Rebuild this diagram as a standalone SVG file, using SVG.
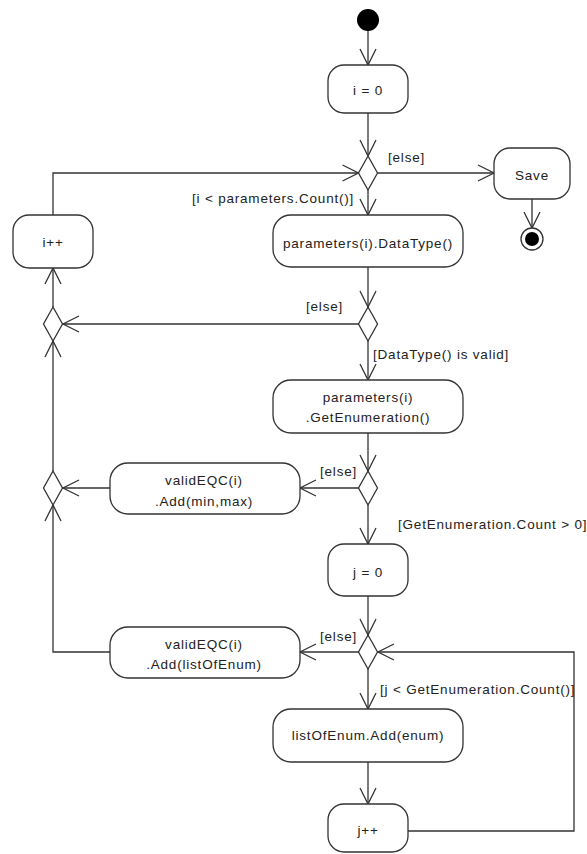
<svg xmlns="http://www.w3.org/2000/svg" width="587" height="854" viewBox="0 0 587 854">
  <style>
    .act { fill: #ffffff; stroke: #333333; stroke-width: 1.3; }
    .dec { fill: #ffffff; stroke: #333333; stroke-width: 1.3; }
    .t { font-family: "Liberation Sans", Arial, sans-serif; font-size: 13.5px; letter-spacing: 0.8px; fill: #222222; }
    .c { text-anchor: middle; }
    .flow { fill: none; stroke: #333333; stroke-width: 1.3; marker-end: url(#arr); }
  </style>
  <defs>
    <marker id="arr" viewBox="-18 -10 20 20" refX="0" refY="0" markerWidth="20" markerHeight="20" markerUnits="userSpaceOnUse" orient="auto">
      <path d="M-16,-8 L0,0 L-16,8" fill="none" stroke="#333333" stroke-width="1.3"/>
    </marker>
  </defs>
  <rect width="587" height="854" fill="#ffffff"/>

  <!-- connectors -->
  <g id="connectors">
    <path class="flow" d="M368,31 L368,65"/>
    <path class="flow" d="M368,113 L368,156"/>
    <path class="flow" d="M378,173 L494,173"/>
    <path class="flow" d="M532,199 L532,228"/>
    <path class="flow" d="M368,190 L368,215"/>
    <path class="flow" d="M368,267 L368,307"/>
    <path class="flow" d="M359,324 L63,324"/>
    <path class="flow" d="M53,307 L53,268"/>
    <path class="flow" d="M53,215 L53,173 L358.5,173"/>
    <path class="flow" d="M368,341 L368,380"/>
    <path class="flow" d="M368,433 L368,471"/>
    <path class="flow" d="M359,488 L300,488"/>
    <path class="flow" d="M110,488 L63,488"/>
    <path class="flow" d="M53,471 L53,341"/>
    <path class="flow" d="M368,505 L368,544"/>
    <path class="flow" d="M368,596 L368,635"/>
    <path class="flow" d="M359,652 L300,652"/>
    <path class="flow" d="M110,652 L53,652 L53,505"/>
    <path class="flow" d="M368,669 L368,709"/>
    <path class="flow" d="M368,762 L368,804"/>
    <path class="flow" d="M408,831 L574,831 L574,652 L378,652"/>

    <text class="t" x="388" y="162">[else]</text>
    <text class="t" x="192" y="203">[i &lt; parameters.Count()]</text>
    <text class="t" x="306" y="311">[else]</text>
    <text class="t" x="373" y="359">[DataType() is valid]</text>
    <text class="t" x="320" y="476">[else]</text>
    <text class="t" x="398" y="529">[GetEnumeration.Count &gt; 0]</text>
    <text class="t" x="320" y="641">[else]</text>
    <text class="t" x="380" y="694">[j &lt; GetEnumeration.Count()]</text>
  </g>

  <!-- nodes -->
  <g id="start">
    <circle cx="368" cy="20" r="11" fill="#000000"/>
  </g>
  <g id="init-i">
    <rect class="act" x="328" y="65" width="80" height="48" rx="16"/>
    <text class="t c" x="368" y="95">i = 0</text>
  </g>
  <g id="check-i">
    <polygon class="dec" points="368,156 377.5,173 368,190 358.5,173"/>
  </g>
  <g id="save">
    <rect class="act" x="494" y="148" width="76" height="51" rx="16"/>
    <text class="t c" x="532" y="180">Save</text>
  </g>
  <g id="end">
    <circle cx="532" cy="239" r="11" fill="#ffffff" stroke="#333333" stroke-width="1.3"/>
    <circle cx="532" cy="239" r="7" fill="#000000"/>
  </g>
  <g id="data-type">
    <rect class="act" x="273" y="215" width="190" height="52" rx="18"/>
    <text class="t c" x="368" y="248">parameters(i).DataType()</text>
  </g>
  <g id="inc-i">
    <rect class="act" x="13" y="215" width="80" height="53" rx="16"/>
    <text class="t c" x="53" y="247">i++</text>
  </g>
  <g id="check-type">
    <polygon class="dec" points="368,307 377.5,324 368,341 358.5,324"/>
  </g>
  <g id="merge-a">
    <polygon class="dec" points="53,307 62.5,324 53,341 43.5,324"/>
  </g>
  <g id="get-enum">
    <rect class="act" x="273" y="380" width="190" height="53" rx="18"/>
    <text class="t c" x="368" y="402">parameters(i)</text>
    <text class="t c" x="368" y="422">.GetEnumeration()</text>
  </g>
  <g id="check-count">
    <polygon class="dec" points="368,471 377.5,488 368,505 358.5,488"/>
  </g>
  <g id="add-range">
    <rect class="act" x="110" y="463" width="190" height="51" rx="18"/>
    <text class="t c" x="204" y="485">validEQC(i)</text>
    <text class="t c" x="204" y="506">.Add(min,max)</text>
  </g>
  <g id="merge-b">
    <polygon class="dec" points="53,471 62.5,488 53,505 43.5,488"/>
  </g>
  <g id="init-j">
    <rect class="act" x="328" y="544" width="80" height="52" rx="16"/>
    <text class="t c" x="368" y="577">j = 0</text>
  </g>
  <g id="check-j">
    <polygon class="dec" points="368,635 377.5,652 368,669 358.5,652"/>
  </g>
  <g id="add-list">
    <rect class="act" x="110" y="627" width="190" height="51" rx="18"/>
    <text class="t c" x="204" y="649">validEQC(i)</text>
    <text class="t c" x="204" y="669">.Add(listOfEnum)</text>
  </g>
  <g id="collect-enum">
    <rect class="act" x="273" y="709" width="190" height="53" rx="18"/>
    <text class="t c" x="368" y="740">listOfEnum.Add(enum)</text>
  </g>
  <g id="inc-j">
    <rect class="act" x="328" y="804" width="80" height="48" rx="16"/>
    <text class="t c" x="368" y="835">j++</text>
  </g>
</svg>
